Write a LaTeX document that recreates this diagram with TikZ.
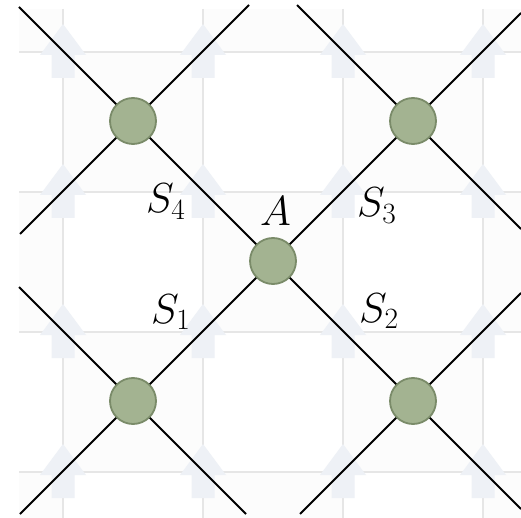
\RequirePackage{fix-cm}
\documentclass[tikz,border=0pt]{standalone}
\usepackage{tikz}
\definecolor{gridc}{HTML}{E6E6E6}
\definecolor{cellc}{HTML}{FCFCFC}
\definecolor{arrc}{HTML}{EEF1F6}
\definecolor{nodefill}{HTML}{A3B391}
\definecolor{nodeedge}{HTML}{7A8B69}
\tikzset{
  site/.style={circle, minimum size=46pt, inner sep=0pt, fill=nodefill, draw=nodeedge, line width=1.8pt},
  lab/.style={anchor=base west, inner sep=0pt, font=\fontsize{42}{50}\selectfont},
  gridline/.style={draw=gridc, line width=2.5pt},
  wire/.style={draw=black, line width=1.8pt},
  bigarrow/.style={fill=arrc, draw=none}
}
\begin{document}
\begin{tikzpicture}[x=1pt,y=-1pt]
\useasboundingbox (0,0) rectangle (521,518);
\fill[white] (0,0) rectangle (521,518);
% checker cells
\foreach \xa/\xb/\i in {19/63/0,63/203/1,203/343/2,343/483/3,483/521/4}{
  \foreach \ya/\yb/\j in {9/52/0,52/192/1,192/332/2,332/472/3,472/518/4}{
    \pgfmathtruncatemacro{\cellpar}{mod(\i+\j,2)}
    \ifnum\cellpar=0 \fill[cellc] (\xa,\ya) rectangle (\xb,\yb); \fi
  }
}
% grid lines
\foreach \x in {63,203,343,483}{ \draw[gridline] (\x,9) -- (\x,518); }
\foreach \y in {52,192,332,472}{ \draw[gridline] (19,\y) -- (521,\y); }
% block arrows
\foreach \x in {63,203,343,483}{
  \foreach \y in {52,192,332,472}{
    \fill[bigarrow] (\x,\y-28) -- (\x+23,\y+3) -- (\x+11.5,\y+3) -- (\x+11.5,\y+26)
      -- (\x-11.5,\y+26) -- (\x-11.5,\y+3) -- (\x-23,\y+3) -- cycle;
  }
}
% line end points
\coordinate (a1) at (19,7);    \coordinate (a2) at (521,509);
\coordinate (b1) at (20,234);  \coordinate (b2) at (249,5);
\coordinate (c1) at (297,5);   \coordinate (c2) at (521,229);
\coordinate (d1) at (521,13);  \coordinate (d2) at (20,514);
\coordinate (e1) at (19,287);  \coordinate (e2) at (246,514);
\coordinate (f1) at (300,514); \coordinate (f2) at (521,293);
% site positions
\coordinate (pTL) at (133,121);
\coordinate (pTR) at (413,121);
\coordinate (pA)  at (273,261);
\coordinate (pBL) at (133,401);
\coordinate (pBR) at (413,401);
% wires
\draw[wire] (a1) -- (pTL) -- (pA) -- (pBR) -- (a2);
\draw[wire] (b1) -- (pTL) -- (b2);
\draw[wire] (c1) -- (pTR) -- (c2);
\draw[wire] (d1) -- (pTR) -- (pA) -- (pBL) -- (d2);
\draw[wire] (e1) -- (pBL) -- (e2);
\draw[wire] (f1) -- (pBR) -- (f2);
% sites
\node[site] (TL) at (pTL) {};
\node[site] (TR) at (pTR) {};
\node[site] (A)  at (pA)  {};
\node[site] (BL) at (pBL) {};
\node[site] (BR) at (pBR) {};
% labels
\node[lab] (l4) at (146,213) {$S_4$};
\node[lab] (l3) at (357,217) {$S_3$};
\node[lab] (l1) at (151,323) {$S_1$};
\node[lab] (l2) at (359,322) {$S_2$};
\node[lab] (lA) at (260,226) {$A$};
\end{tikzpicture}
\end{document}
